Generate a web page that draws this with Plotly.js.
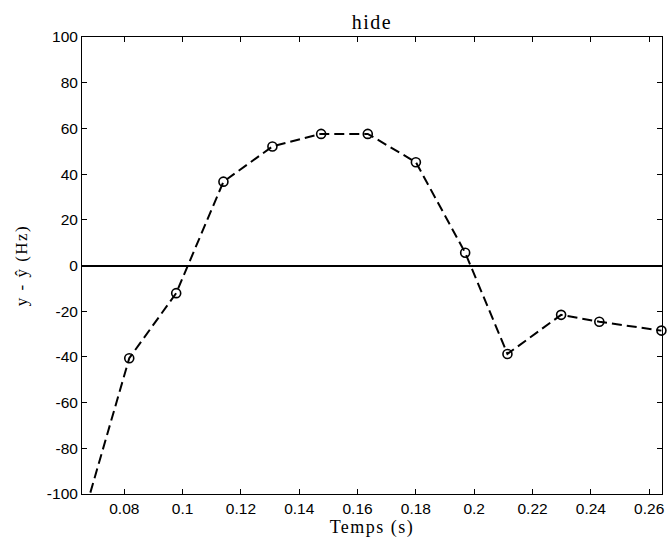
<!DOCTYPE html>
<html>
<head>
<meta charset="utf-8">
<script src="https://cdn.plot.ly/plotly-3.0.1.min.js"></script>
<style>
html,body{margin:0;padding:0;background:#fff;}
#chart{width:667px;height:549px;}
#chart .gtitle{letter-spacing:1.5px;}
#chart .xtitle, #chart .ytitle{letter-spacing:1.5px;}
</style>
</head>
<body>
<div id="chart"></div>
<script>
// Data
const timeS = [0.0655, 0.0817, 0.0978, 0.1140, 0.1308, 0.1475, 0.1635, 0.1800, 0.1969, 0.2114, 0.2298, 0.2429, 0.2642];
const residualHz = [-112, -40.6, -12.1, 36.7, 52.1, 57.6, 57.6, 45.2, 5.6, -38.7, -21.6, -24.6, -28.5];
const xTickVals = [0.08, 0.10, 0.12, 0.14, 0.16, 0.18, 0.20, 0.22, 0.24, 0.26];
const xTickText = ['0.08', '0.1', '0.12', '0.14', '0.16', '0.18', '0.2', '0.22', '0.24', '0.26'];
const yTickVals = [-100, -80, -60, -40, -20, 0, 20, 40, 60, 80, 100];
const yTickText = ['-100', '-80', '-60', '-40', '-20', '0', '20', '40', '60', '80', '100'];

const tickFont = {family: 'Liberation Sans, Arial, sans-serif', size: 15.5, color: '#000'};
const serif = 'Liberation Serif, Times New Roman, serif';

const lineTrace = {
  x: timeS, y: residualHz, type: 'scatter', mode: 'lines',
  line: {color: '#000', width: 2, dash: '10px,5px'},
  cliponaxis: true, hoverinfo: 'skip', showlegend: false
};
const markerTrace = {
  x: timeS.slice(1), y: residualHz.slice(1), type: 'scatter', mode: 'markers',
  marker: {symbol: 'circle-open', size: 9, color: '#000', line: {width: 1.6, color: '#000'}},
  cliponaxis: false, showlegend: false
};

const axisCommon = {
  showline: true, linecolor: '#000', linewidth: 1, mirror: 'allticks',
  ticks: 'inside', ticklen: 5, tickwidth: 1, tickcolor: '#000',
  showgrid: false, tickfont: tickFont, tickmode: 'array'
};

const layout = {
  width: 667, height: 549,
  margin: {l: 82, r: 5, t: 37, b: 55},
  paper_bgcolor: '#fff', plot_bgcolor: '#fff',
  showlegend: false,
  title: {text: 'hide', font: {family: serif, size: 20, color: '#000'}, x: 0.5, xref: 'paper', xanchor: 'center', y: 0.96, yref: 'container', yanchor: 'middle'},
  xaxis: Object.assign({}, axisCommon, {
    range: [0.0655, 0.2644], tickvals: xTickVals, ticktext: xTickText, zeroline: false,
    title: {text: 'Temps (s)', font: {family: serif, size: 18, color: '#000'}, standoff: 4}
  }),
  yaxis: Object.assign({}, axisCommon, {
    range: [-100, 100], tickvals: yTickVals, ticktext: yTickText,
    zeroline: true, zerolinecolor: '#000', zerolinewidth: 2,
    title: {text: 'y - ŷ (Hz)', font: {family: serif, size: 17, color: '#000'}, standoff: 14}
  })
};

Plotly.newPlot('chart', [lineTrace, markerTrace], layout, {displayModeBar: false, staticPlot: true});
</script>
</body>
</html>
